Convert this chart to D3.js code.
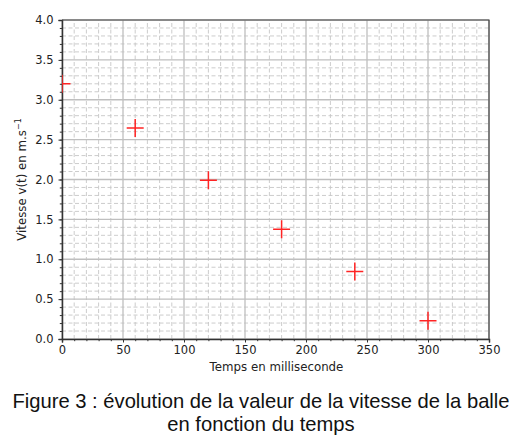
<!DOCTYPE html>
<html lang="fr">
<head>
<meta charset="utf-8">
<script src="https://d3js.org/d3.v7.min.js"></script>
<style>
	body { margin: 0; background: #fff; }
	.caption { font-family: "Liberation Sans", Arial, sans-serif; font-size: 20.2px; fill: #111; }
	.tick text { font-family: "DejaVu Sans", sans-serif; font-size: 11.5px; fill: #222; }
	.lab { font-family: "DejaVu Sans", sans-serif; font-size: 11.8px; fill: #222; }
</style>
</head>
<body>
<script>
var width = 520, height = 440;

// data
var temps = [0, 60, 120, 180, 240, 300];
var vitesse = [3.20, 2.645, 1.99, 1.375, 0.845, 0.23];
var xTicks = [0, 50, 100, 150, 200, 250, 300, 350];
var yTicks = [0.0, 0.5, 1.0, 1.5, 2.0, 2.5, 3.0, 3.5, 4.0];
var captionLines = ["Figure 3 : évolution de la valeur de la vitesse de la balle", "en fonction du temps"];

var margin = {left: 62, right: 31, top: 20, bottom: 101};

var svg = d3.select("body").append("svg")
	.attr("width", width)
	.attr("height", height);

var x = d3.scaleLinear().domain([0, 350]).range([margin.left, width - margin.right]);
var y = d3.scaleLinear().domain([0, 4]).range([height - margin.bottom, margin.top]);

svg.append("defs").append("clipPath").attr("id", "plotclip")
	.append("rect")
	.attr("x", x(0)).attr("y", y(4))
	.attr("width", x(350) - x(0)).attr("height", y(0) - y(4));

var xMinor = d3.range(0, 351, 10);
var yMinor = d3.range(0, 41, 1).map(function(d) { return d / 10; });

var grid = svg.append("g");
// minor grid, dashed
grid.selectAll(".mx").data(xMinor.filter(function(d) { return d % 50 != 0; }))
	.enter().append("line")
	.attr("x1", x).attr("x2", x).attr("y1", y(0)).attr("y2", y(4))
	.style("stroke", "#c6c6c6").style("stroke-width", 0.9).style("stroke-dasharray", "4,2.5");
grid.selectAll(".my").data(yMinor.filter(function(d, i) { return i % 5 != 0; }))
	.enter().append("line")
	.attr("y1", y).attr("y2", y).attr("x1", x(0)).attr("x2", x(350))
	.style("stroke", "#c6c6c6").style("stroke-width", 0.9).style("stroke-dasharray", "4,2.5");
// major grid
grid.selectAll(".Mx").data(xTicks)
	.enter().append("line")
	.attr("x1", x).attr("x2", x).attr("y1", y(0)).attr("y2", y(4))
	.style("stroke", "#bfbfbf").style("stroke-width", 1.3);
grid.selectAll(".My").data(yTicks)
	.enter().append("line")
	.attr("y1", y).attr("y2", y).attr("x1", x(0)).attr("x2", x(350))
	.style("stroke", "#bfbfbf").style("stroke-width", 1.3);

// axes
svg.append("g")
	.attr("transform", "translate(0," + y(0) + ")")
	.call(d3.axisBottom(x).tickValues(xTicks).tickFormat(d3.format("d")).tickSize(3.5).tickPadding(3));
svg.append("g")
	.attr("transform", "translate(0," + y(0) + ")")
	.call(d3.axisBottom(x).tickValues(xMinor).tickFormat("").tickSize(2.2))
	.select(".domain").remove();
svg.append("g")
	.attr("transform", "translate(" + x(0) + ",0)")
	.call(d3.axisLeft(y).tickValues(yTicks).tickFormat(d3.format(".1f")).tickSize(3.5).tickPadding(5));
svg.append("g")
	.attr("transform", "translate(" + x(0) + ",0)")
	.call(d3.axisLeft(y).tickValues(yMinor).tickFormat("").tickSize(2.2))
	.select(".domain").remove();
svg.selectAll(".tick line").style("stroke", "#333");
svg.selectAll(".domain").style("stroke", "#333").style("stroke-width", 1.5);

// top/right frame
svg.append("path")
	.attr("d", "M" + x(0) + "," + y(4) + "H" + x(350) + "V" + y(0))
	.style("fill", "none").style("stroke", "#444").style("stroke-width", 1.2);

// points (+ markers), clipped to the plot area
var pts = svg.append("g").attr("clip-path", "url(#plotclip)")
	.selectAll("g")
	.data(temps.map(function(t, i) { return [t, vitesse[i]]; }))
	.enter().append("g")
	.attr("transform", function(d) { return "translate(" + x(d[0]) + "," + y(d[1]) + ")"; });
pts.append("path")
	.attr("d", "M-8.5,0H8.5M0,-9V9")
	.style("stroke", "#ff2424").style("stroke-width", 1.5).style("fill", "none");

// labels
svg.append("text").attr("class", "lab")
	.attr("x", (x(0) + x(350)) / 2 + 1).attr("y", 371)
	.attr("text-anchor", "middle")
	.text("Temps en milliseconde");
var yl = svg.append("text").attr("class", "lab")
	.attr("transform", "translate(26," + (y(2)) + ") rotate(-90)")
	.attr("text-anchor", "middle");
yl.append("tspan").text("Vitesse v(t) en m.s");
yl.append("tspan").attr("dy", -5).style("font-size", "8px").text("−1");

svg.selectAll(".caption").data(captionLines)
	.enter().append("text").attr("class", "caption")
	.attr("x", 261)
	.attr("y", function(d, i) { return 408 + i * 23; })
	.attr("text-anchor", "middle")
	.text(function(d) { return d; });
</script>
</body>
</html>
